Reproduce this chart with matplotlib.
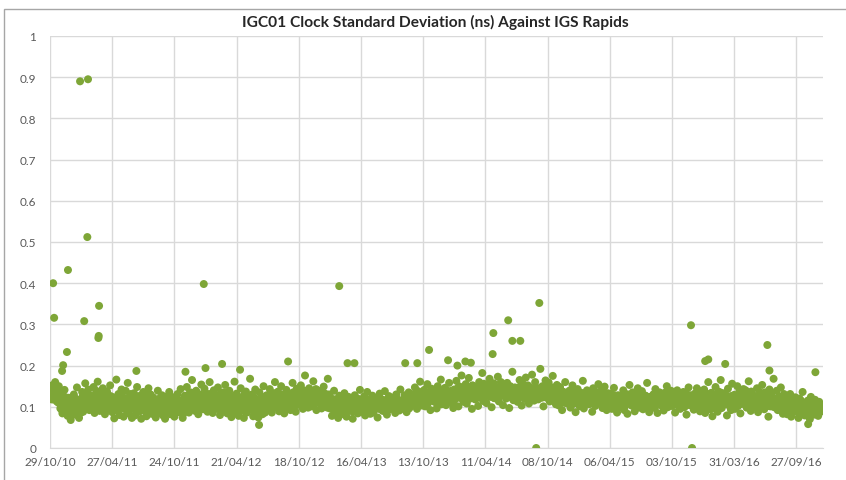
import numpy as np
import pandas as pd
import matplotlib
matplotlib.use("Agg")
import matplotlib.pyplot as plt
import matplotlib.dates as mdates
from matplotlib.patches import Rectangle

# clock std dev (ns) in thousandths, one reading every 3 days from 29/10/10
start_date = "2010-10-29"
step_days = 3
band_vals = [
    140, 125, 152, 118, 133, 160, 121, 145, 110, 138,
    96, 128, 84, 112, 141, 90, 105, 78, 122, 99,
    68, 115, 92, 130, 81, 108, 147, 95, 73, 118,
    104, 136, 88, 121, 157, 99, 113, 142, 92, 127,
    110, 95, 148, 85, 124, 103, 161, 117, 90, 132,
    98, 145, 109, 82, 126, 137, 93, 119, 152, 106,
    87, 123, 72, 114, 166, 97, 131, 80, 108, 142,
    118, 76, 101, 139, 92, 158, 84, 125, 110, 73,
    95, 133, 79, 117, 148, 102, 88, 127, 71, 112,
    136, 90, 121, 77, 104, 145, 99, 130, 83, 116,
    92, 118, 74, 106, 139, 85, 112, 97, 128, 79,
    103, 71, 124, 94, 110, 136, 82, 100, 119, 88,
    76, 115, 98, 131, 87, 108, 143, 92, 73, 120,
    127, 96, 148, 110, 86, 135, 118, 165, 101, 124,
    90, 139, 113, 82, 128, 105, 154, 97, 121, 144,
    108, 131, 88, 117, 160, 99, 126, 85, 140, 112,
    95, 122, 147, 103, 80, 134, 116, 92, 128, 153,
    118, 84, 106, 139, 96, 75, 125, 110, 161, 88,
    132, 100, 78, 115, 145, 91, 120, 73, 108, 137,
    86, 123, 104, 168, 93, 130, 77, 112, 142, 99,
    110, 74, 135, 97, 119, 82, 150, 105, 90, 128,
    121, 95, 143, 108, 86, 133, 117, 160, 99, 126,
    137, 89, 112, 150, 102, 124, 84, 118, 141, 97,
    106, 130, 92, 119, 158, 100, 127, 88, 144, 113,
    128, 104, 152, 117, 95, 139, 176, 112, 131, 98,
    145, 119, 101, 133, 162, 108, 126, 92, 140, 115,
    109, 137, 96, 124, 149, 113, 101, 130, 168, 118,
    96, 121, 78, 108, 139, 89, 115, 100, 73, 127,
    104, 82, 118, 95, 133, 112, 76, 101, 124, 90,
    115, 93, 71, 106, 128, 98, 120, 84, 110, 141,
    88, 112, 99, 125, 79, 104, 136, 92, 117, 83,
    101, 127, 86, 110, 95, 121, 74, 107, 132, 97,
    118, 90, 105, 138, 99, 81, 113, 126, 94, 109,
    97, 122, 108, 85, 130, 103, 116, 91, 142, 111,
    112, 95, 128, 104, 87, 119, 135, 100, 124, 106,
    130, 108, 147, 122, 95, 138, 116, 161, 127, 103,
    119, 141, 101, 132, 155, 113, 126, 92, 144, 121,
    137, 112, 128, 96, 150, 124, 108, 166, 131, 117,
    125, 146, 104, 133, 118, 158, 110, 139, 122, 97,
    142, 118, 163, 130, 101, 148, 127, 176, 136, 112,
    129, 155, 108, 141, 170, 122, 137, 95, 151, 133,
    118, 145, 131, 102, 160, 138, 124, 182, 114, 147,
    136, 109, 152, 127, 168, 140, 99, 133, 157, 121,
    148, 126, 173, 113, 139, 160, 131, 104, 145, 128,
    120, 158, 134, 97, 150, 137, 185, 116, 143, 130,
    139, 112, 147, 165, 125, 103, 156, 134, 119, 171,
    131, 152, 108, 140, 123, 178, 136, 115, 160, 127,
    144, 118, 133, 192, 126, 150, 101, 138, 164, 122,
    135, 159, 113, 146, 129, 175, 120, 142, 106, 153,
    126, 103, 148, 117, 92, 135, 121, 160, 109, 130,
    114, 139, 98, 125, 152, 108, 131, 87, 120, 143,
    122, 101, 134, 115, 163, 96, 127, 110, 140, 118,
    106, 130, 119, 88, 145, 123, 102, 136, 114, 155,
    128, 111, 140, 97, 124, 149, 116, 92, 133, 119,
    110, 132, 95, 121, 146, 104, 117, 86, 128, 112,
    99, 124, 115, 140, 92, 108, 130, 83, 119, 153,
    121, 103, 135, 112, 89, 126, 117, 145, 98, 131,
    108, 138, 94, 119, 127, 101, 158, 113, 87, 124,
    116, 97, 130, 109, 143, 121, 85, 112, 135, 104,
    125, 108, 91, 134, 117, 150, 99, 122, 110, 139,
    102, 129, 114, 86, 123, 140, 107, 131, 95, 118,
    113, 136, 99, 124, 81, 116, 147, 104, 128, 110,
    120, 93, 132, 107, 145, 115, 126, 89, 138, 101,
    111, 142, 85, 128, 103, 160, 119, 94, 134, 77,
    126, 100, 148, 113, 88, 137, 121, 165, 97, 130,
    107, 133, 119, 79, 144, 110, 125, 92, 156, 116,
    129, 95, 114, 150, 103, 138, 84, 122, 109, 143,
    118, 140, 98, 127, 162, 111, 90, 133, 104, 124,
    100, 126, 145, 87, 117, 135, 106, 153, 121, 94,
    135, 110, 123, 76, 142, 101, 130, 115, 168, 108,
    112, 139, 92, 124, 105, 147, 118, 83, 131, 99,
    104, 82, 118, 93, 131, 76, 100, 112, 88, 123,
    91, 107, 73, 120, 96, 85, 136, 101, 79, 110,
    86, 115, 98, 70, 124, 92, 104, 81, 117, 95,
    102, 78, 112, 89, 97,
]

# the in-between days (same 3-day step, starting a day and a half later)
start_date_b = "2010-10-30 12:00"
band_vals_b = [
    128, 118, 137, 145, 122, 131, 113, 126, 150, 135,
    105, 92, 117, 101, 124, 88, 112, 97, 108, 120,
    99, 86, 111, 123, 94, 104, 90, 116, 102, 85,
    112, 125, 101, 117, 96, 130, 108, 121, 114, 104,
    118, 102, 127, 109, 139, 97, 115, 123, 106, 128,
    107, 121, 95, 113, 131, 104, 118, 99, 126, 110,
    101, 114, 92, 122, 106, 118, 95, 109, 128, 99,
    108, 95, 121, 103, 115, 89, 111, 131, 97, 117,
    112, 99, 106, 124, 90, 115, 103, 119, 96, 108,
    104, 121, 93, 112, 128, 100, 116, 91, 109, 123,
    100, 88, 113, 96, 107, 120, 91, 103, 115, 94,
    111, 97, 85, 106, 118, 92, 109, 124, 98, 104,
    93, 108, 119, 89, 102, 114, 96, 110, 83, 106,
    112, 104, 126, 97, 118, 109, 134, 101, 122, 115,
    108, 123, 99, 116, 130, 105, 119, 94, 113, 127,
    120, 101, 114, 131, 96, 111, 124, 106, 118, 99,
    113, 128, 104, 119, 92, 121, 109, 135, 102, 117,
    104, 117, 94, 110, 126, 99, 113, 88, 120, 107,
    115, 101, 123, 92, 109, 118, 96, 130, 104, 112,
    99, 111, 126, 103, 94, 117, 108, 121, 89, 114,
    107, 93, 115, 102, 124, 96, 111, 86, 119, 105,
    113, 126, 104, 119, 97, 121, 110, 133, 102, 117,
    120, 108, 124, 98, 114, 130, 105, 118, 111, 127,
    116, 103, 121, 110, 135, 99, 119, 107, 125, 112,
    118, 131, 109, 124, 140, 114, 127, 101, 122, 136,
    123, 112, 134, 106, 129, 117, 143, 110, 126, 119,
    115, 128, 104, 121, 133, 111, 124, 98, 118, 130,
    102, 113, 94, 108, 118, 99, 110, 89, 104, 116,
    107, 96, 112, 101, 121, 92, 106, 114, 98, 109,
    99, 110, 88, 104, 115, 96, 108, 119, 93, 105,
    106, 95, 113, 102, 90, 111, 99, 117, 104, 97,
    110, 100, 92, 108, 119, 97, 105, 113, 94, 103,
    96, 109, 116, 101, 93, 107, 120, 98, 111, 104,
    108, 99, 113, 94, 106, 118, 102, 110, 97, 115,
    103, 114, 99, 109, 121, 104, 96, 112, 107, 118,
    118, 131, 112, 126, 104, 121, 135, 115, 129, 109,
    127, 113, 134, 120, 108, 130, 117, 139, 122, 114,
    121, 136, 111, 128, 119, 142, 124, 106, 131, 117,
    130, 118, 125, 138, 112, 127, 121, 133, 109, 126,
    131, 142, 124, 137, 150, 128, 140, 119, 134, 146,
    138, 126, 145, 133, 119, 141, 130, 152, 127, 136,
    129, 143, 135, 122, 148, 131, 139, 125, 156, 134,
    140, 128, 137, 151, 124, 133, 146, 130, 121, 142,
    135, 147, 129, 138, 126, 144, 132, 155, 128, 139,
    131, 140, 125, 149, 136, 122, 143, 134, 147, 129,
    142, 130, 138, 124, 151, 135, 127, 145, 133, 140,
    127, 139, 148, 131, 136, 123, 144, 130, 141, 134,
    133, 145, 128, 137, 122, 140, 149, 131, 126, 138,
    136, 124, 141, 130, 147, 128, 135, 121, 139, 132,
    122, 131, 114, 127, 118, 136, 110, 124, 129, 117,
    125, 113, 130, 119, 138, 108, 123, 116, 132, 120,
    116, 128, 121, 106, 133, 119, 125, 112, 127, 122,
    121, 114, 129, 118, 109, 126, 133, 115, 120, 124,
    118, 127, 111, 123, 131, 116, 121, 129, 108, 125,
    114, 123, 107, 118, 128, 111, 120, 102, 116, 125,
    119, 108, 124, 113, 101, 121, 115, 130, 110, 117,
    112, 126, 104, 117, 122, 109, 119, 113, 131, 106,
    116, 105, 121, 111, 127, 114, 103, 120, 118, 124,
    110, 122, 115, 99, 118, 127, 112, 106, 123, 114,
    121, 111, 125, 108, 116, 104, 129, 117, 113, 120,
    115, 124, 106, 119, 112, 128, 101, 117, 122, 109,
    118, 107, 123, 114, 130, 110, 121, 105, 116, 126,
    113, 120, 109, 124, 117, 103, 119, 127, 111, 122,
    112, 125, 101, 118, 131, 107, 122, 114, 96, 119,
    120, 108, 127, 115, 99, 123, 112, 134, 105, 117,
    114, 129, 106, 121, 111, 118, 97, 126, 116, 109,
    123, 110, 117, 102, 128, 113, 120, 107, 132, 115,
    108, 121, 113, 126, 104, 119, 137, 111, 124, 100,
    117, 105, 122, 113, 128, 96, 120, 109, 116, 125,
    111, 124, 102, 118, 130, 108, 115, 121, 99, 113,
    106, 118, 112, 97, 122, 109, 125, 103, 115, 110,
    98, 108, 91, 104, 114, 87, 101, 96, 110, 93,
    102, 89, 106, 97, 115, 92, 100, 84, 108, 95,
    94, 103, 87, 99, 110, 90, 97, 105, 83, 100,
    96, 91, 103, 88, 99,
]

# the stand-out readings
outlier_dates = [
    "2010-11-07", "2010-11-10", "2010-12-03", "2010-12-06", "2010-12-17",
    "2010-12-20", "2011-01-24", "2011-02-16", "2011-02-05", "2011-02-14",
    "2011-03-20", "2011-03-18", "2011-03-19", "2011-07-06", "2011-11-25",
    "2012-01-17", "2012-01-22", "2012-03-10", "2012-05-01", "2012-06-25",
    "2012-09-17", "2013-02-12", "2013-03-08", "2013-03-28", "2013-08-22",
    "2013-09-26", "2013-10-30", "2013-12-24", "2014-01-20", "2014-02-12",
    "2014-02-28", "2014-05-02", "2014-05-04", "2014-06-16", "2014-06-28",
    "2014-07-21", "2014-09-14", "2014-09-05", "2015-11-27", "2015-11-30",
    "2016-01-07", "2016-01-16", "2016-03-05", "2016-07-05", "2016-07-11",
    "2016-11-21", "2016-10-31",
]
outlier_vals = [
    0.400, 0.316, 0.187, 0.201, 0.233,
    0.432, 0.890, 0.895, 0.308, 0.512,
    0.345, 0.267, 0.272, 0.187, 0.185,
    0.398, 0.194, 0.204, 0.190, 0.056,
    0.210, 0.393, 0.206, 0.206, 0.206,
    0.206, 0.238, 0.213, 0.200, 0.210,
    0.207, 0.228, 0.279, 0.310, 0.260,
    0.260, 0.352, 0.000, 0.298, 0.000,
    0.211, 0.215, 0.204, 0.250, 0.188,
    0.184, 0.058,
]

y_ticks = [0, 0.1, 0.2, 0.3, 0.4, 0.5, 0.6, 0.7, 0.8, 0.9, 1]
y_labels = ["0", "0.1", "0.2", "0.3", "0.4", "0.5", "0.6", "0.7", "0.8", "0.9", "1"]

dot = "#7ea637"
grid_col = "#d9d9d9"
txt_col = "#595959"

plt.rcParams["font.family"] = ["Lato", "DejaVu Sans"]

dates_a = pd.date_range(start_date, periods=len(band_vals), freq=f"{step_days}D")
dates_b = pd.date_range(start_date_b, periods=len(band_vals_b), freq=f"{step_days}D")

fig = plt.figure(figsize=(8.46, 4.81), dpi=100)
ax = fig.add_axes([50 / 846, 32 / 481, 773 / 846, 412 / 481])

ax.scatter(dates_b, np.array(band_vals_b) / 1000.0, s=33, color=dot, edgecolors="none", zorder=3)
ax.scatter(dates_a, np.array(band_vals) / 1000.0, s=33, color=dot, edgecolors="none", zorder=3)
ax.scatter(pd.to_datetime(outlier_dates), outlier_vals, s=33, color=dot,
           edgecolors="none", zorder=3)

ax.set_xlim(pd.Timestamp(start_date), pd.Timestamp("2016-12-13"))
ax.set_ylim(0, 1)

x_ticks = pd.date_range(start_date, "2016-12-01", freq="180D")
ax.set_xticks(x_ticks)
ax.xaxis.set_major_formatter(mdates.DateFormatter("%d/%m/%y"))
ax.set_yticks(y_ticks)
ax.set_yticklabels(y_labels)

ax.grid(True, color=grid_col, linewidth=1)
ax.set_axisbelow(True)
for s in ["top", "right", "left"]:
    ax.spines[s].set_visible(False)
ax.spines["bottom"].set_color(grid_col)
ax.tick_params(length=0, labelsize=8.5, labelcolor=txt_col, pad=6)
ax.tick_params(axis="y", pad=10)

fig.text(0.515, 0.953, "IGC01 Clock Standard Deviation (ns) Against IGS Rapids",
         ha="center", va="center", fontsize=11.2, fontweight="bold", color="#262626")

# faint chart frame
fig.patches.append(Rectangle((4 / 846, -0.01), 1.0, 0.99, transform=fig.transFigure,
                             fill=False, edgecolor="#a6a6a6", linewidth=1))

fig.savefig("out.png", dpi=100, facecolor="white")
plt.close()
